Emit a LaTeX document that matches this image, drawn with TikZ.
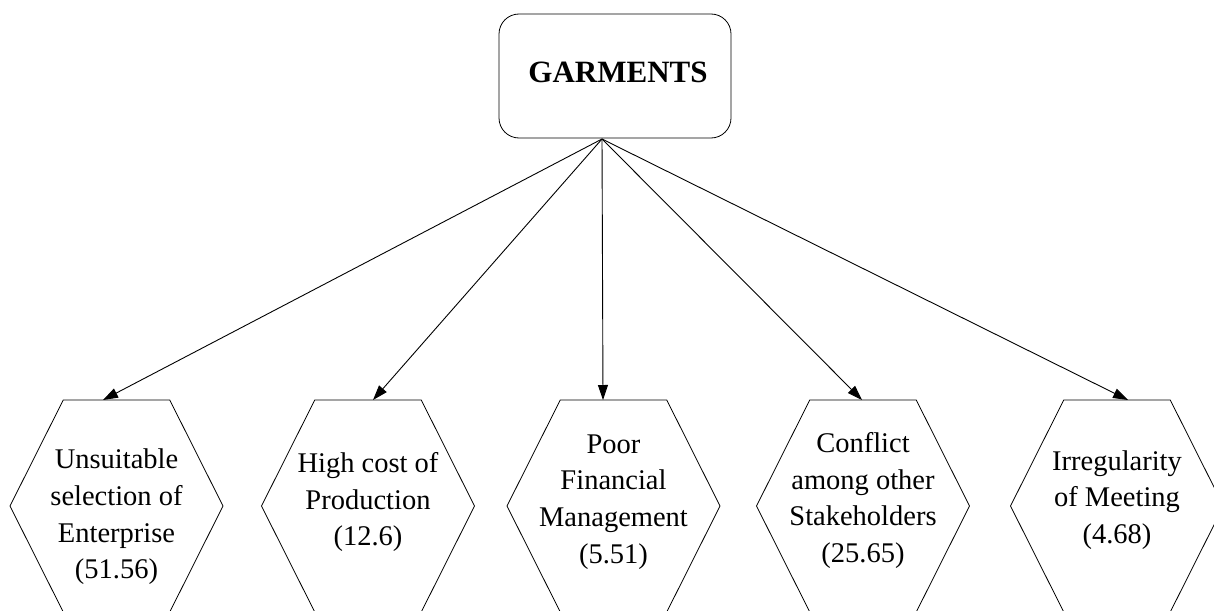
\documentclass[tikz,border=0pt]{standalone}
\usepackage{fontspec}
\setmainfont{Liberation Serif}
\usetikzlibrary{arrows.meta,calc}
\tikzset{
  topbox/.style={draw, line width=0.8pt, rounded corners=20pt, minimum width=232pt, minimum height=124pt, inner sep=0pt, outer sep=0pt},
  titletext/.style={inner sep=0pt, font=\fontsize{31}{36}\selectfont\bfseries},
  hexshape/.style={minimum width=213pt, minimum height=212pt, inner sep=0pt, outer sep=0pt},
  hexline/.style={line width=0.8pt, line join=miter},
  hextext/.style={inner sep=0pt, align=center, font=\fontsize{28.5}{36.7}\selectfont},
  arr/.style={line width=0.9pt, -{Triangle[length=15pt,width=10pt]}}
}
\begin{document}
\begin{tikzpicture}[x=1pt,y=-1pt]
\useasboundingbox (0,0) rectangle (1214,610);
\node[topbox] (top) at (615,76) {};
\node[titletext] (title) at (618,72.5) {GARMENTS};
\coordinate (src) at (602,139);

\node[hexshape] (h1) at (116.5,506) {};
\node[hexshape] (h2) at (368,506) {};
\node[hexshape] (h3) at (613.5,506) {};
\node[hexshape] (h4) at (863,506) {};
\node[hexshape] (h5) at (1117,506) {};

\foreach \n in {h1,h2,h3,h4,h5}{
  \draw[hexline] (\n.west) -- ($(\n.north west)!0.5!(\n.north)$) -- ($(\n.north east)!0.5!(\n.north)$) -- (\n.east) -- ($(\n.south east)!0.5!(\n.south)$) -- ($(\n.south west)!0.5!(\n.south)$) -- cycle;
}

\node[hextext] (t1) at (116.5,517) {Unsuitable\\selection of\\Enterprise\\(51.56)};
\node[hextext] (t2) at (368,502) {High cost of\\Production\\(12.6)};
\node[hextext] (t3) at (613.5,502) {Poor\\Financial\\Management\\(5.51)};
\node[hextext] (t4) at (863,500.5) {Conflict\\among other\\Stakeholders\\(25.65)};
\node[hextext] (t5) at (1117,500) {Irregularity\\of Meeting\\(4.68)};

\draw[arr] (src) -- ($(h1.north)+(-13.5,0)$);
\draw[arr] (src) -- ($(h2.north)+(5,0)$);
\draw[arr] (src) -- ($(h3.north)+(-10.5,0)$);
\draw[arr] (src) -- ($(h4.north)+(-1,0)$);
\draw[arr] (src) -- ($(h5.north)+(11,0)$);
\end{tikzpicture}
\end{document}
